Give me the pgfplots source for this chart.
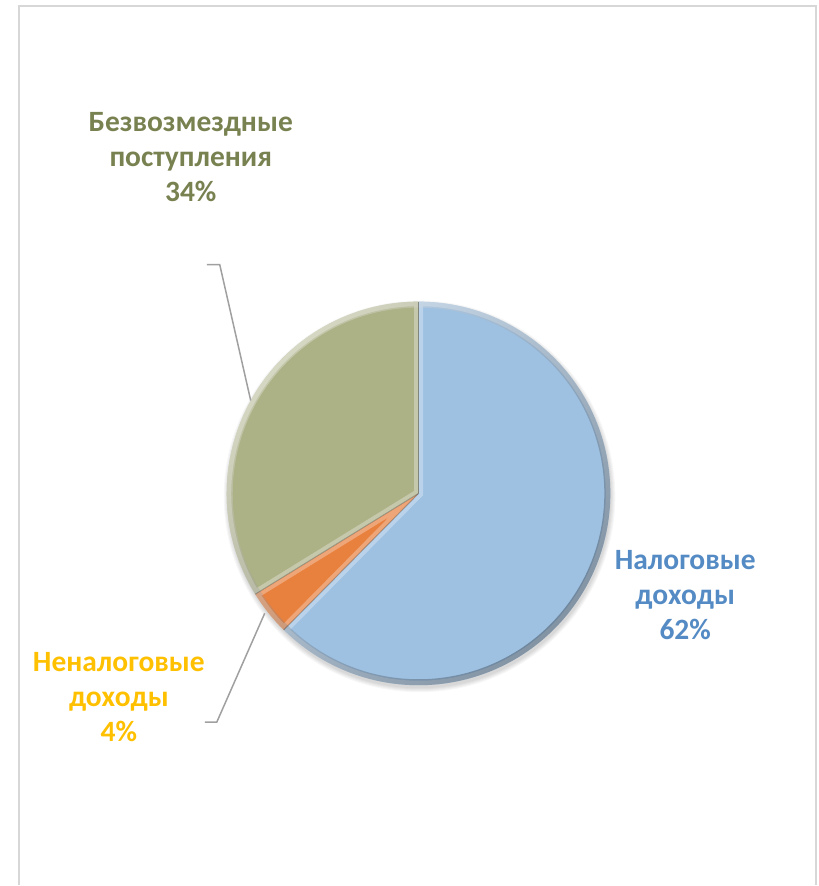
\documentclass[border=0pt]{standalone}
\usepackage{fontspec}
\setmainfont{Carlito}
\usepackage{pgfplots}
\usepackage{pgfplotstable}
\pgfplotsset{compat=1.18}
\definecolor{blueF}{RGB}{158,193,226}
\definecolor{orangeF}{RGB}{232,128,62}
\definecolor{greenF}{RGB}{172,177,134}
\definecolor{blueT}{RGB}{84,139,196}
\definecolor{greenT}{RGB}{120,129,80}
\definecolor{orangeT}{RGB}{255,192,0}
\definecolor{leader}{RGB}{160,160,160}
\definecolor{framec}{RGB}{215,215,215}

\pgfplotstableread{
part value
Nalog 62.4
Nenalog 3.8
Bezvozm 33.8
}\piedata

\begin{document}
\pgfplotstablegetelem{0}{value}\of\piedata \edef\va{\pgfplotsretval}%
\pgfplotstablegetelem{1}{value}\of\piedata \edef\vb{\pgfplotsretval}%
\pgfplotstablegetelem{2}{value}\of\piedata \edef\vc{\pgfplotsretval}%
\pgfmathsetmacro\aA{90}%
\pgfmathsetmacro\aB{90-3.6*\va}%
\pgfmathsetmacro\aC{\aB-3.6*\vb}%
\pgfmathsetmacro\aD{\aC-3.6*\vc}%
\begin{tikzpicture}
\begin{axis}[hide axis, scale only axis, width=819pt, height=886pt,
  xmin=0, xmax=819, ymin=0, ymax=886, y dir=reverse, clip=false]
\path[fill=white] (axis cs:0,0) rectangle (axis cs:819,886);
% frame
\draw[framec, line width=2pt] (axis cs:19,886) -- (axis cs:19,6) -- (axis cs:817,6) -- (axis cs:817,886);
\coordinate (C) at (axis cs:419,494);
% soft shadow
\pgfplotsinvokeforeach{192,193,194,195,196}{
  \fill[black, opacity=0.03] ([shift={(1pt,-3pt)}]C) circle[radius=#1pt];
}
% slices
\fill[blueF] (C) -- ++(\aA:192pt) arc[start angle=\aA, end angle=\aB, radius=192pt] -- cycle;
\fill[orangeF] (C) -- ++(\aB:192pt) arc[start angle=\aB, end angle=\aC, radius=192pt] -- cycle;
\fill[greenF] (C) -- ++(\aC:192pt) arc[start angle=\aC, end angle=\aD, radius=192pt] -- cycle;
% bevel highlights
\begin{scope}
\clip (C) -- ++(\aA:192pt) arc[start angle=\aA, end angle=\aB, radius=192pt] -- cycle;
\draw[white, opacity=0.3, line width=9pt] (C) -- ++(\aA:192pt) arc[start angle=\aA, end angle=\aB, radius=192pt] -- cycle;
\end{scope}
\begin{scope}
\clip (C) -- ++(\aB:192pt) arc[start angle=\aB, end angle=\aC, radius=192pt] -- cycle;
\draw[white, opacity=0.3, line width=9pt] (C) -- ++(\aB:192pt) arc[start angle=\aB, end angle=\aC, radius=192pt] -- cycle;
\end{scope}
\begin{scope}
\clip (C) -- ++(\aC:192pt) arc[start angle=\aC, end angle=\aD, radius=192pt] -- cycle;
\draw[white, opacity=0.3, line width=9pt] (C) -- ++(\aC:192pt) arc[start angle=\aC, end angle=\aD, radius=192pt] -- cycle;
\end{scope}
% rim shading
\begin{scope}
\clip (C) circle[radius=192pt];
\shade[top color=white, bottom color=black, shading angle=45, fill opacity=0.3, even odd rule] (C) circle[radius=194pt] (C) circle[radius=186pt];
\end{scope}
% radial edges
\draw[black, opacity=0.35, line width=1pt] (C) -- ++(\aA:192pt);
\draw[black, opacity=0.25, line width=1pt] (C) -- ++(\aB:192pt);
\draw[black, opacity=0.25, line width=1pt] (C) -- ++(\aC:192pt);
% leader lines
\draw[leader, line width=1.5pt] (axis cs:207,265) -- (axis cs:220,265) -- (axis cs:251,401);
\draw[leader, line width=1.5pt] (axis cs:205,723) -- (axis cs:217,723) -- (axis cs:265,614);
% labels
\begin{scope}[every node/.style={font=\fontsize{29.5}{35}\selectfont\bfseries, anchor=base, inner sep=0pt}]
\node[text=greenT] at (axis cs:191,132) {Безвозмездные};
\node[text=greenT] at (axis cs:191,167) {поступления};
\node[text=greenT] at (axis cs:191,202) {34\%};
\node[text=blueT] at (axis cs:686,570) {Налоговые};
\node[text=blueT] at (axis cs:686,605) {доходы};
\node[text=blueT] at (axis cs:686,640) {62\%};
\node[text=orangeT] at (axis cs:119,672) {Неналоговые};
\node[text=orangeT] at (axis cs:119,707) {доходы};
\node[text=orangeT] at (axis cs:119,742) {4\%};
\end{scope}
\end{axis}
\end{tikzpicture}
\end{document}
